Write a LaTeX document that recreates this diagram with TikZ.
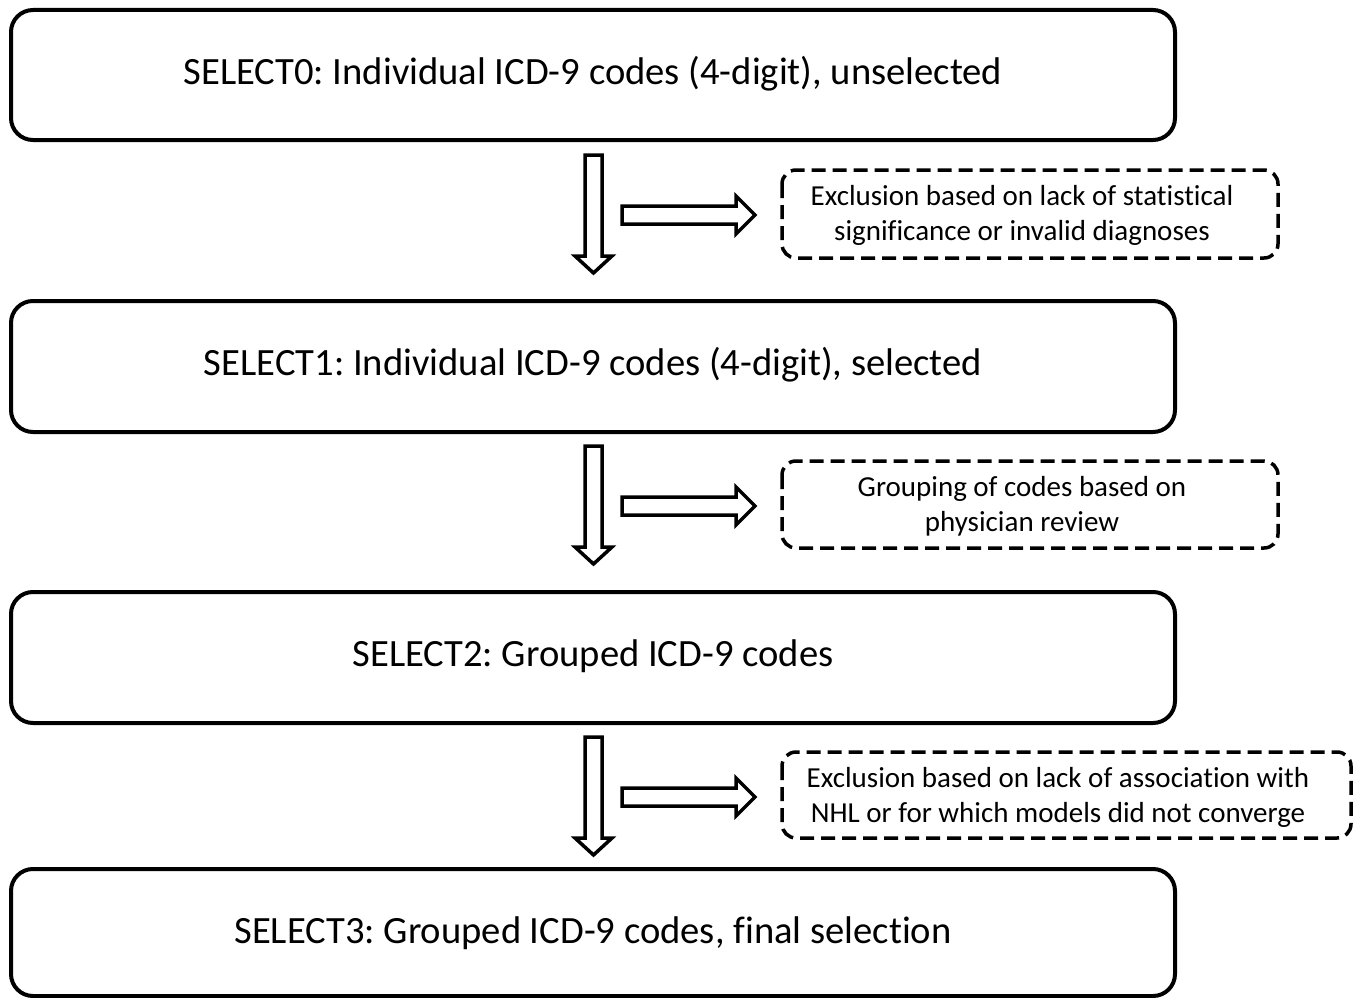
\documentclass[tikz,border=0pt]{standalone}
\usepackage{fontspec}
\setmainfont{Carlito}[Ligatures={NoCommon}]
\frenchspacing
\begin{document}
\begin{tikzpicture}[x=1pt,y=-1pt,
  bigbox/.style={draw, line width=4pt, rounded corners=22pt},
  dashbox/.style={draw, line width=3.5pt, rounded corners=14pt, dash pattern=on 14pt off 7pt},
  blockarrow/.style={draw, line width=3.5pt, fill=white, line join=miter},
  bigtext/.style={font=\fontsize{38.6}{44}\selectfont},
  smalltext/.style={font=\fontsize{29}{35}\selectfont, align=center}]
\useasboundingbox (0,0) rectangle (1358,998);
% big boxes
\draw[bigbox] (11,10) rectangle (1175,140);
\node[bigtext] (s0) at (593,74) {SELECT0: Individual ICD-9 codes (4-digit), unselected};
\draw[bigbox] (11,301) rectangle (1175,432);
\node[bigtext] (s1) at (593,365) {SELECT1: Individual ICD-9 codes (4-digit), selected};
\draw[bigbox] (11,592) rectangle (1175,723);
\node[bigtext] (s2) at (593,656) {SELECT2: Grouped ICD-9 codes};
\draw[bigbox] (11,869) rectangle (1175,996);
\node[bigtext] (s3) at (593,933) {SELECT3: Grouped ICD-9 codes, final selection};
% dashed boxes
\draw[dashbox] (782,170) rectangle (1278,258);
\node[smalltext] (e1) at (1022,215) {Exclusion based on lack of statistical\\significance or invalid diagnoses};
\draw[dashbox] (782,461) rectangle (1278,548);
\node[smalltext] (e2) at (1022,506) {Grouping of codes based on\\physician review};
\draw[dashbox] (782,752) rectangle (1351,838);
\node[smalltext] (e3) at (1058,797) {Exclusion based on lack of association with\\NHL or for which models did not converge};
% arrows
\foreach \dy in {0,291,582}{
  \draw[blockarrow] (585,155+\dy) -- (602,155+\dy) -- (602,256+\dy) -- (612,256+\dy) -- (593.5,273+\dy) -- (575,256+\dy) -- (585,256+\dy) -- cycle;
  \draw[blockarrow] (622,206+\dy) -- (736,206+\dy) -- (736,196+\dy) -- (755,215+\dy) -- (736,234+\dy) -- (736,224+\dy) -- (622,224+\dy) -- cycle;
}
\end{tikzpicture}
\end{document}
